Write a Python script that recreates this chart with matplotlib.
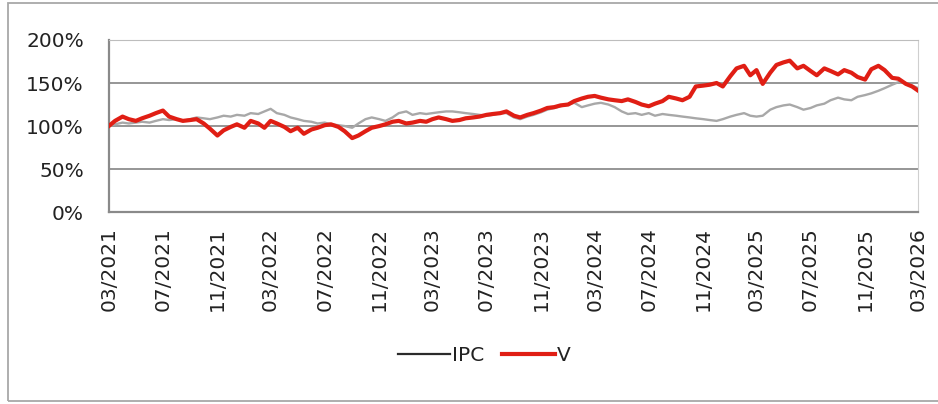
"""IPC vs V cumulative performance, 03/2021 - 03/2026."""

import matplotlib
matplotlib.use("Agg")
import matplotlib.dates as mdates
import matplotlib.pyplot as plt
import pandas as pd
from matplotlib.lines import Line2D
from matplotlib.patches import Rectangle

# semi-monthly observations, 03/2021 -> 03/2026 (values in %)
dates = pd.date_range("2021-03-01", "2026-03-01", freq="SMS")

ipc = [100, 102, 104, 103, 104, 105, 104, 106, 108, 107,
       108, 106, 108, 110, 109, 108, 110, 112, 111, 113,
       112, 115, 114, 117, 120, 115, 113, 110, 108, 106,
       105, 103, 104, 102, 101, 100, 98, 103, 108, 110,
       108, 106, 110, 115, 117, 113, 115, 114, 115, 116,
       117, 117, 116, 115, 114, 113, 112, 113, 115, 115,
       110, 108, 111, 113, 116, 119, 121, 123, 125, 127,
       122, 124, 126, 127, 125, 122, 117, 114, 115, 113,
       115, 112, 114, 113, 112, 111, 110, 109, 108, 107,
       106, 108, 111, 113, 115, 112, 111, 112, 119, 122,
       124, 125, 122, 119, 121, 124, 126, 130, 133, 131,
       130, 134, 136, 138, 141, 144, 148, 151, 150, 147,
       144]

v = [100, 106, 111, 108, 106, 109, 112, 115, 118, 111,
     108, 106, 107, 108, 103, 97, 89, 95, 99, 102,
     98, 106, 103, 98, 106, 103, 99, 94, 98, 91,
     96, 98, 101, 102, 99, 94, 86, 89, 94, 98,
     100, 102, 105, 106, 103, 104, 106, 105, 108, 110,
     108, 106, 107, 109, 110, 111, 113, 114, 115, 117,
     112, 110, 113, 115, 118, 121, 122, 124, 125, 129,
     132, 134, 135, 133, 131, 130, 129, 131, 128, 125,
     123, 126, 129, 134, 132, 130, 134, 146, 147, 148,
     150, 146, 158, 167, 170, 159, 165, 149, 162, 171,
     174, 176, 167, 170, 164, 159, 167, 164, 160, 165,
     162, 157, 154, 166, 170, 165, 156, 155, 149, 146,
     141]

y_ticks = [0, 50, 100, 150, 200]

fig = plt.figure(figsize=(9.38, 4.04), dpi=100)
ax = fig.add_axes([0.116, 0.475, 0.863, 0.426])

ax.plot(dates, ipc, color="#a8a8a8", linewidth=1.7, zorder=3)
ax.plot(dates, v, color="#e01e14", linewidth=3.0, zorder=4)

ax.set_ylim(0, 200)
ax.set_yticks(y_ticks)
ax.set_yticklabels([f"{t}%" for t in y_ticks])
ax.set_xlim(dates[0], dates[-1])
ax.xaxis.set_major_locator(mdates.MonthLocator(bymonth=[3, 7, 11]))
ax.xaxis.set_major_formatter(mdates.DateFormatter("%m/%Y"))
ax.tick_params(axis="x", rotation=90, length=0, pad=11, labelsize=14.5,
               labelcolor="#222222")
ax.tick_params(axis="y", length=0, pad=18, labelsize=14.5,
               labelcolor="#222222")

ax.grid(axis="y", color="#8e8e8e", linewidth=1.3)
ax.set_axisbelow(True)
for side in ["left", "bottom"]:
    ax.spines[side].set_color("#8a8a8a")
    ax.spines[side].set_linewidth(1.6)
ax.spines["top"].set_color("#bdbdbd")
ax.spines["right"].set_color("#cfcfcf")

handles = [Line2D([], [], color="#2b2b2b", linewidth=1.6),
           Line2D([], [], color="#e01e14", linewidth=3.0)]
fig.legend(handles, ["IPC", "V"], loc="center", bbox_to_anchor=(0.516, 0.121),
           ncol=2, frameon=False, fontsize=14.5, handlelength=2.6,
           handletextpad=0.1, columnspacing=0.9, labelcolor="#222222")

# outer chart frame
fig.patches.append(Rectangle((0.008, 0.008), 1.1, 0.985, transform=fig.transFigure,
                             fill=False, edgecolor="#a8a8a8", linewidth=1.3))

fig.savefig("out.png", dpi=100)
plt.close(fig)
